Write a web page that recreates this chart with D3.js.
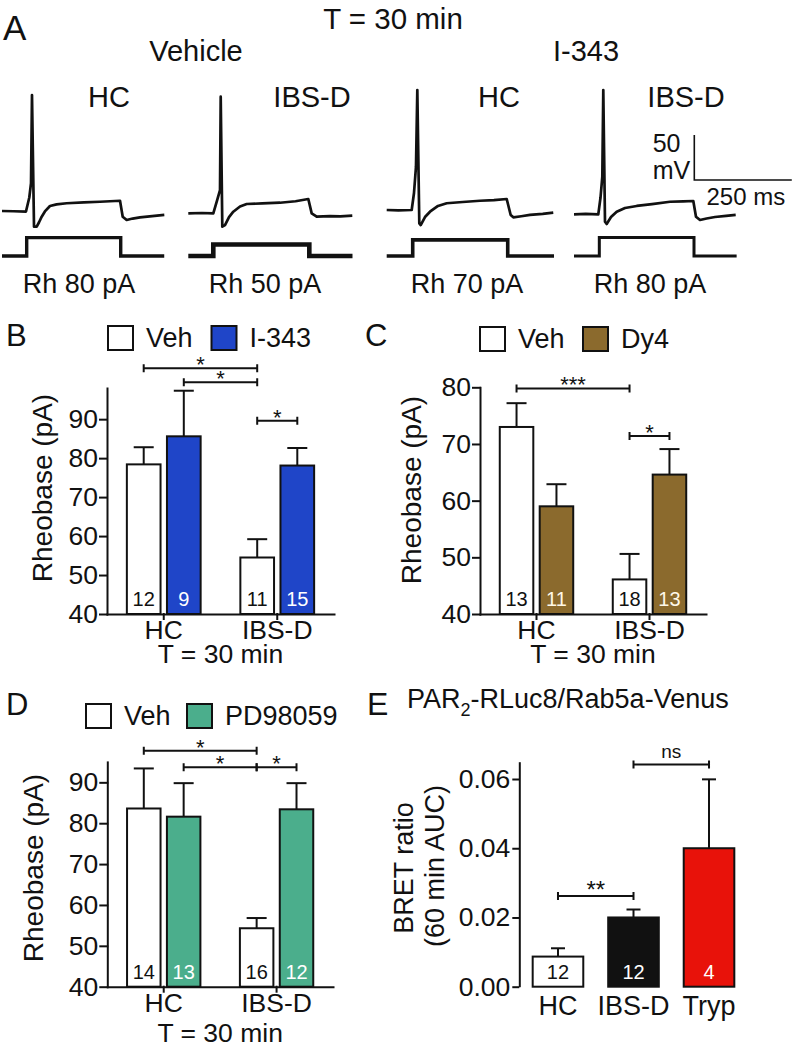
<!DOCTYPE html>
<html><head><meta charset="utf-8">
<script src="https://cdn.jsdelivr.net/npm/d3@7"></script>
<style>
body{margin:0;background:#fff}
svg{display:block}
text{font-family:"Liberation Sans",Arial,Helvetica,sans-serif;fill:#111}
</style>
</head><body>
<svg id="fig" width="796" height="1052"></svg>
<script>
// ================= DATA =================
// Panel A: example traces (time in ms, membrane potential in mV)
const traceGroups = ["Vehicle", "I-343"];
const traceLabels = ["HC", "IBS-D", "HC", "IBS-D"];
const rheobaseA = [80, 50, 70, 80]; // pA
const vTrace1 = [[0,-60],[30,-60.3],[61.5,-60.6],[70,-45],[74.4,-29.2],[76.9,68.9],[82.1,-77.4],[89,-77.4],[95,-72.5],[101.8,-66.3],[110,-60.5],[123,-54.4],[140,-52.6],[165.9,-51.4],[210,-50.4],[251.3,-49.7],[302.6,-48.6],[309.5,-66.3],[319.7,-70],[335,-68.4],[353.8,-67],[385,-65.6],[416.2,-64.4]];
const vTrace2 = [[0,-62.6],[35,-62.2],[64.1,-62.6],[74,-48],[81.3,-36.7],[83.1,67],[87.2,-77.4],[94.1,-75.6],[104.4,-66.7],[115.4,-60.8],[132.6,-55],[149.7,-52.2],[190,-51.6],[235.1,-50.8],[275,-49.2],[307.7,-46.7],[316.4,-62.6],[329.2,-66.3],[363.3,-65.6],[390,-65.9],[420.5,-65.2]];
const vTrace3 = [[0,-58.9],[30,-59.4],[64.1,-58.9],[70,-40],[75.1,-10.8],[78.5,74.4],[83.6,-73.7],[87.2,-75.6],[98.2,-66.7],[111,-60.8],[131.5,-54.4],[153.8,-51.4],[195,-50],[239.2,-48.6],[275,-48],[307.7,-46.7],[317.9,-64.4],[324.6,-67],[345,-65.8],[367.4,-64.4],[400,-63.2],[427.1,-61.9]];
const vTrace4 = [[0,-63.7],[30,-63.3],[62.3,-63.7],[68,-45],[72.6,-21.9],[75.1,74.4],[79.5,-71.9],[83.8,-74.4],[94.9,-66.7],[109.5,-60.8],[130.8,-56.7],[160.8,-54.4],[200,-52.4],[246.2,-49.7],[280,-49.2],[305.9,-48.9],[312.8,-66.3],[323.1,-70],[340,-68.3],[361.5,-66.7],[390,-65.4],[414.6,-64.4]];
const voltageTraces = [vTrace1, vTrace2, vTrace3, vTrace4];
// current step: [on, off, end] in ms
const stepTimes = [[63.3,304.4,416],[64.1,310.3,421],[66.7,310.3,429],[64.9,307.7,417]];

// Panel B
const groups = ["HC", "IBS-D"];
const seriesB = ["Veh", "I-343"];
const vehB = [78.4, 54.5], vehB_sem = [4.4, 4.7], vehB_n = [12, 11];
const i343B = [85.6, 78.1], i343B_sem = [11.7, 4.5], i343B_n = [9, 15];
const ticksB = [40, 50, 60, 70, 80, 90];
const bracketsB = [["HC","Veh","IBS-D","Veh",103.1,"*"],["HC","I-343","IBS-D","Veh",99.5,"*"],["IBS-D","Veh","IBS-D","I-343",89.6,"*"]];

// Panel C
const seriesC = ["Veh", "Dy4"];
const vehC = [73.0, 46.1], vehC_sem = [4.2, 4.5], vehC_n = [13, 18];
const dy4C = [59.0, 64.6], dy4C_sem = [3.9, 4.5], dy4C_n = [11, 13];
const ticksC = [40, 50, 60, 70, 80];
const bracketsC = [["HC","Veh","IBS-D","Veh",79.8,"***"],["IBS-D","Veh","IBS-D","Dy4",71.4,"*"]];

// Panel D
const seriesD = ["Veh", "PD98059"];
const vehD = [83.6, 54.3], vehD_sem = [9.8, 2.5], vehD_n = [14, 16];
const pdD = [81.6, 83.4], pdD_sem = [8.2, 6.4], pdD_n = [13, 12];
const ticksD = [40, 50, 60, 70, 80, 90];
const bracketsD = [["HC","Veh","IBS-D","Veh",97.7,"*"],["HC","PD98059","IBS-D","Veh",93.7,"*"],["IBS-D","Veh","IBS-D","PD98059",93.7,"*"]];

// Panel E
const catsE = ["HC", "IBS-D", "Tryp"];
const meanE = [0.0087, 0.0200, 0.0400];
const semE = [0.0024, 0.0023, 0.0199];
const nE = [12, 12, 4];
const ticksE = [0, 0.02, 0.04, 0.06];
const bracketsE = [["HC","IBS-D",0.0262,"**"],["IBS-D","Tryp",0.0642,"ns"]];

// ================= DRAWING =================
const svg = d3.select("#fig");
const INK = "#111";

function txt(g, x, y, s, size, anchor) {
  return g.append("text").attr("x", x).attr("y", y).attr("font-size", size)
    .attr("text-anchor", anchor || "start").text(s);
}

// ---------- Panel A ----------
(function panelA() {
  const g = svg.append("g");
  txt(g, 3, 40, "A", 35);
  txt(g, 393, 29, "T = 30 min", 29.5, "middle");
  txt(g, 196, 61, traceGroups[0], 29, "middle");
  txt(g, 586, 61, traceGroups[1], 29, "middle");
  const labelX = [109, 312, 499, 686];
  const rhX = [79, 265, 467, 650];
  const x0s = [2, 188.3, 386.7, 574];
  const vy = d3.scaleLinear().domain([-60, 70]).range([211, 94]);
  const iy = d3.scaleLinear().domain([0, 80]).range([256, 237.6]);
  const currW = [3.4, 4.6, 3.6, 3];
  voltageTraces.forEach((tr, i) => {
    const tx = d3.scaleLinear().domain([0, 400]).range([x0s[i], x0s[i] + 400 * 0.39]);
    const line = d3.line().x(d => tx(d[0])).y(d => vy(d[1]));
    g.append("path").attr("d", line(tr)).attr("fill", "none").attr("stroke", INK)
      .attr("stroke-width", 2.7).attr("stroke-linejoin", "round");
    const st = stepTimes[i], amp = rheobaseA[i];
    const cur = [[0,0],[st[0],0],[st[0],amp],[st[1],amp],[st[1],0],[st[2],0]];
    const cline = d3.line().x(d => tx(d[0])).y(d => iy(d[1]));
    g.append("path").attr("d", cline(cur)).attr("fill", "none").attr("stroke", INK)
      .attr("stroke-width", currW[i]);
    txt(g, labelX[i], 107, traceLabels[i], 29, "middle");
    txt(g, rhX[i], 293, "Rh " + rheobaseA[i] + " pA", 27, "middle");
    if (i === 3) {
      // scale bar: 50 mV / 250 ms
      const sx = 694.3, sy = 180;
      const w = tx(250) - tx(0), h = vy(-60) - vy(-10);
      g.append("path").attr("d", `M${sx},${sy - h}V${sy}H${sx + w}`).attr("fill", "none")
        .attr("stroke", INK).attr("stroke-width", 1.6);
      txt(g, 652.7, 152, "50", 25);
      txt(g, 652.7, 179, "mV", 25);
      txt(g, 706.5, 205, "250 ms", 24);
    }
  });
})();

// ---------- grouped bar panels ----------
function barPanel(o) {
  const g = svg.append("g");
  const x0 = d3.scaleBand().domain(groups).range(o.xRange).paddingInner(0.35).paddingOuter(0.175);
  const x1 = d3.scaleBand().domain(o.series).range([0, x0.bandwidth()]).paddingInner(0.16);
  const y = d3.scaleLinear().domain(o.yDomain).range(o.yRange);
  const cx = (gr, s) => x0(gr) + x1(s) + x1.bandwidth() / 2;

  o.series.forEach((s, si) => {
    groups.forEach((gr, gi) => {
      const m = o.means[si][gi], e = o.sems[si][gi];
      const bx = x0(gr) + x1(s), bw = x1.bandwidth(), c = bx + bw / 2;
      g.append("line").attr("x1", c).attr("x2", c).attr("y1", y(m)).attr("y2", y(m + e))
        .attr("stroke", INK).attr("stroke-width", 2);
      g.append("line").attr("x1", c - 10).attr("x2", c + 10).attr("y1", y(m + e)).attr("y2", y(m + e))
        .attr("stroke", INK).attr("stroke-width", 2);
      g.append("rect").attr("x", bx).attr("y", y(m)).attr("width", bw)
        .attr("height", y(o.yDomain[0]) - y(m)).attr("fill", o.colors[si])
        .attr("stroke", INK).attr("stroke-width", 2);
      txt(g, c, y(o.yDomain[0]) - 8, o.ns[si][gi], 20, "middle").style("fill", o.numColors[si]);
    });
  });

  // axes
  const ya = g.append("g").attr("transform", `translate(${o.xRange[0]},0)`)
    .call(d3.axisLeft(y).tickValues(o.ticks).tickSize(7).tickSizeOuter(0).tickPadding(2).tickFormat(d3.format("d")));
  const xa = g.append("g").attr("transform", `translate(0,${o.yRange[0]})`)
    .call(d3.axisBottom(x0).tickSize(5).tickSizeOuter(0).tickPadding(1));
  [ya, xa].forEach(a => {
    a.attr("font-family", null);
    a.selectAll("path,line").attr("stroke", INK).attr("stroke-width", 2).attr("stroke-linecap", "square");
    a.selectAll("text").style("fill", INK);
  });
  ya.attr("font-size", 26.5);
  xa.attr("font-size", 26.5);

  // brackets
  o.brackets.forEach(b => {
    const xa1 = cx(b[0], b[1]), xb1 = cx(b[2], b[3]), yy = y(b[4]);
    g.append("path").attr("d", `M${xa1},${yy - 4}V${yy + 4}M${xa1},${yy}H${xb1}M${xb1},${yy - 4}V${yy + 4}`)
      .attr("fill", "none").attr("stroke", INK).attr("stroke-width", 2);
    txt(g, (xa1 + xb1) / 2, yy + 4, b[5], 22, "middle");
  });

  // legend
  o.series.forEach((s, si) => {
    g.append("rect").attr("x", o.legX[si]).attr("y", o.legY).attr("width", 25).attr("height", 24)
      .attr("fill", o.colors[si]).attr("stroke", INK).attr("stroke-width", 2);
    txt(g, o.legX[si] + 38, o.legY + 21, s, 27);
  });

  // labels
  txt(g, o.letter[1], o.letter[2], o.letter[0], 31);
  g.append("text").attr("transform", `translate(${o.yLabel[0]},${o.yLabel[1]}) rotate(-90)`)
    .attr("font-size", 28).attr("text-anchor", "middle").text("Rheobase (pA)");
  txt(g, (o.xRange[0] + o.xRange[1]) / 2, o.yRange[0] + o.tGap, "T = 30 min", 26.5, "middle");
}

barPanel({
  series: seriesB, means: [vehB, i343B], sems: [vehB_sem, i343B_sem], ns: [vehB_n, i343B_n],
  colors: ["#ffffff", "#1f45c8"], numColors: [INK, "#ffffff"],
  yDomain: [40, 98], ticks: ticksB, xRange: [107, 334], yRange: [614, 388],
  brackets: bracketsB, legX: [108, 211.5], legY: 326, letter: ["B", 6, 346], yLabel: [52, 488], tGap: 49
});
barPanel({
  series: seriesC, means: [vehC, dy4C], sems: [vehC_sem, dy4C_sem], ns: [vehC_n, dy4C_n],
  colors: ["#ffffff", "#8b6a2d"], numColors: [INK, "#fff8e8"],
  yDomain: [40, 80], ticks: ticksC, xRange: [480, 706], yRange: [614, 387.3],
  brackets: bracketsC, legX: [480, 583], legY: 327, letter: ["C", 365, 346], yLabel: [421, 490], tGap: 49
});
barPanel({
  series: seriesD, means: [vehD, pdD], sems: [vehD_sem, pdD_sem], ns: [vehD_n, pdD_n],
  colors: ["#ffffff", "#4bae8c"], numColors: [INK, "#ffffff"],
  yDomain: [40, 95], ticks: ticksD, xRange: [107.3, 333], yRange: [986.7, 761.9],
  brackets: bracketsD, legX: [86, 187], legY: 704, letter: ["D", 6, 715], yLabel: [43, 868], tGap: 55
});

// ---------- Panel E ----------
(function panelE() {
  const g = svg.append("g");
  const x = d3.scaleBand().domain(catsE).range([520.6, 746.4]).paddingInner(0.33).paddingOuter(0.16);
  const y = d3.scaleLinear().domain([0, 0.065]).range([986.7, 761.7]);
  const colors = ["#ffffff", "#111111", "#e8120a"];
  const numColors = [INK, "#ffffff", "#ffffff"];
  catsE.forEach((c, i) => {
    const bx = x(c), bw = x.bandwidth(), cxv = bx + bw / 2;
    const m = meanE[i], e = semE[i];
    g.append("line").attr("x1", cxv).attr("x2", cxv).attr("y1", y(m)).attr("y2", y(m + e))
      .attr("stroke", INK).attr("stroke-width", 2);
    g.append("line").attr("x1", cxv - 7).attr("x2", cxv + 7).attr("y1", y(m + e)).attr("y2", y(m + e))
      .attr("stroke", INK).attr("stroke-width", 2);
    g.append("rect").attr("x", bx).attr("y", y(m)).attr("width", bw).attr("height", y(0) - y(m))
      .attr("fill", colors[i]).attr("stroke", INK).attr("stroke-width", 2);
    txt(g, cxv, y(0) - 8, nE[i], 20, "middle").style("fill", numColors[i]);
    txt(g, cxv, 1015, c, 27, "middle");
  });
  const ya = g.append("g").attr("transform", "translate(519.3,0)")
    .call(d3.axisLeft(y).tickValues(ticksE).tickSize(7).tickSizeOuter(0).tickPadding(2).tickFormat(d3.format(".2f")));
  ya.attr("font-family", null).attr("font-size", 26.5);
  ya.selectAll("path,line").attr("stroke", INK).attr("stroke-width", 2);
  ya.selectAll("text").style("fill", INK);

  const cx = c => x(c) + x.bandwidth() / 2;
  bracketsE.forEach(b => {
    const xa = cx(b[0]), xb = cx(b[1]), yy = y(b[2]);
    g.append("path").attr("d", `M${xa},${yy - 4}V${yy + 4}M${xa},${yy}H${xb}M${xb},${yy - 4}V${yy + 4}`)
      .attr("fill", "none").attr("stroke", INK).attr("stroke-width", 2);
    if (b[3] === "ns") txt(g, (xa + xb) / 2, yy - 6, b[3], 19, "middle");
    else txt(g, (xa + xb) / 2, yy + 2, b[3], 24, "middle");
  });

  txt(g, 367, 715, "E", 32);
  const t = g.append("text").attr("x", 407).attr("y", 708).attr("font-size", 27);
  t.append("tspan").text("PAR");
  t.append("tspan").attr("font-size", 18).attr("dy", 8).text("2");
  t.append("tspan").attr("dy", -8).text("-RLuc8/Rab5a-Venus");
  g.append("text").attr("transform", "translate(413,868) rotate(-90)").attr("font-size", 27)
    .attr("text-anchor", "middle").text("BRET ratio");
  g.append("text").attr("transform", "translate(444,866) rotate(-90)").attr("font-size", 27)
    .attr("text-anchor", "middle").text("(60 min AUC)");
})();
</script>
</body></html>
